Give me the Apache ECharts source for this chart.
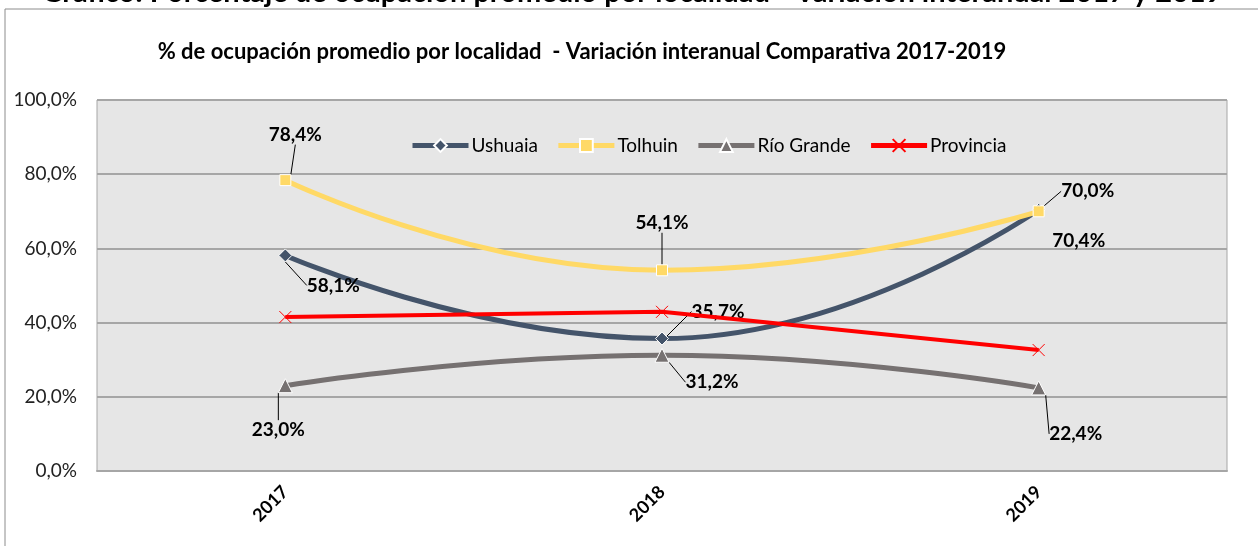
<!DOCTYPE html>
<html>
<head>
<meta charset="utf-8">
<script src="https://cdn.jsdelivr.net/npm/echarts@6/dist/echarts.min.js"></script>
<style>
  html, body { margin: 0; padding: 0; background: #fff; }
  #main { width: 1258px; height: 546px; }
</style>
</head>
<body>
<div id="main"></div>
<script>
// datos
var years = ['2017', '2018', '2019'];
var ushuaia = [58.1, 35.7, 70.4];
var tolhuin = [78.4, 54.1, 70.0];
var rioGrande = [23.0, 31.2, 22.4];
var provincia = [41.5, 42.9, 32.6];
var yTicks = [0, 20, 40, 60, 80, 100];

// desplazamiento de las etiquetas respecto del punto (dx, dy)
var labelOffsets = [
  [[48, 30], [56, -27], [40, 31]],
  [[10, -45], [0, -47], [49, -20]],
  [[-7, 44], [50, 27], [37, 46]],
  [[0, 0], [0, 0], [0, 0]]
];

var FONT = 'Lato';

function pct(v) {
  return v.toFixed(1).replace('.', ',') + '%';
}

function makeData(arr, noLine) {
  return arr.map(function (v, i) {
    var d = { value: v };
    if (noLine && noLine.indexOf(i) >= 0) d.labelLine = { show: false };
    return d;
  });
}

var labelCfg = {
  show: true,
  position: 'inside',
  color: '#000',
  fontFamily: FONT,
  fontWeight: 'bold',
  fontSize: 19,
  formatter: function (p) { return pct(p.value); }
};

var myChart = echarts.init(document.getElementById('main'));

myChart.setOption({
  backgroundColor: '#fff',
  animation: false,
  textStyle: { fontFamily: FONT },
  graphic: [
    {
      type: 'rect',
      shape: { x: 5, y: 9, width: 1300, height: 600 },
      style: { fill: 'none', stroke: '#8c8c8c', lineWidth: 1 },
      z: -10
    },
    {
      type: 'text',
      style: {
        x: 632, y: -7,
        text: 'Gráfico: Porcentaje de ocupación promedio por localidad - Variación interanual 2017 y 2019',
        font: 'bold 29px Lato',
        fill: '#000',
        align: 'center',
        verticalAlign: 'middle'
      }
    },
    {
      type: 'text',
      style: {
        x: 582, y: 52,
        text: '% de ocupación promedio por localidad  - Variación interanual Comparativa 2017-2019',
        font: 'bold 22px Lato',
        fill: '#000',
        align: 'center',
        verticalAlign: 'middle'
      }
    }
  ],
  legend: {
    top: 131,
    left: 405,
    itemWidth: 56,
    itemHeight: 16,
    itemGap: 18,
    lineStyle: { width: 5 },
    textStyle: { fontSize: 19, color: '#000', fontFamily: FONT, padding: [0, 0, 0, -2] },
    data: ['Ushuaia', 'Tolhuin', 'Río Grande', 'Provincia']
  },
  grid: {
    left: 97, right: 31, top: 100, bottom: 75,
    show: true,
    backgroundColor: '#e6e6e6',
    borderColor: '#a6a6a6',
    borderWidth: 1
  },
  xAxis: {
    type: 'category',
    data: years,
    boundaryGap: true,
    axisLine: { lineStyle: { color: '#a6a6a6', width: 2 } },
    axisTick: { show: false },
    axisLabel: {
      rotate: 45,
      margin: 18,
      fontSize: 18,
      fontWeight: 'bold',
      color: '#000',
      fontFamily: FONT
    }
  },
  yAxis: {
    type: 'value',
    min: yTicks[0],
    max: yTicks[yTicks.length - 1],
    interval: 20,
    axisLine: { show: false },
    axisTick: { show: false },
    splitLine: { lineStyle: { color: '#a6a6a6', width: 2 } },
    axisLabel: {
      margin: 20,
      fontSize: 19,
      color: '#222',
      fontFamily: FONT,
      formatter: function (v) { return pct(v); }
    }
  },
  series: [
    {
      name: 'Ushuaia',
      type: 'line',
      smooth: 0.5,
      data: makeData(ushuaia, [2]),
      symbol: 'diamond',
      symbolSize: 13,
      lineStyle: { color: '#44546a', width: 5 },
      itemStyle: { color: '#44546a', borderColor: '#fff', borderWidth: 1 },
      label: labelCfg,
      labelLine: { show: true, lineStyle: { color: '#000', width: 1 } },
      labelLayout: function (p) {
        var o = labelOffsets[0][p.dataIndex];
        return { dx: o[0], dy: o[1] };
      },
      z: 2
    },
    {
      name: 'Tolhuin',
      type: 'line',
      smooth: 0.5,
      data: makeData(tolhuin),
      symbol: 'rect',
      symbolSize: 11,
      lineStyle: { color: '#ffd966', width: 5 },
      itemStyle: { color: '#ffd966', borderColor: '#fff', borderWidth: 1 },
      label: labelCfg,
      labelLine: { show: true, lineStyle: { color: '#000', width: 1 } },
      labelLayout: function (p) {
        var o = labelOffsets[1][p.dataIndex];
        return { dx: o[0], dy: o[1] };
      },
      z: 3
    },
    {
      name: 'Río Grande',
      type: 'line',
      smooth: 0.5,
      data: makeData(rioGrande),
      symbol: 'triangle',
      symbolSize: 14,
      lineStyle: { color: '#767171', width: 5 },
      itemStyle: { color: '#767171', borderColor: '#fff', borderWidth: 1 },
      label: labelCfg,
      labelLine: { show: true, lineStyle: { color: '#000', width: 1 } },
      labelLayout: function (p) {
        var o = labelOffsets[2][p.dataIndex];
        return { dx: o[0], dy: o[1] };
      },
      z: 2
    },
    {
      name: 'Provincia',
      type: 'line',
      smooth: false,
      data: provincia,
      symbol: 'path://M0,0L10,10M10,0L0,10',
      symbolSize: 12,
      lineStyle: { color: '#ff0000', width: 4 },
      itemStyle: { color: '#ff0000', borderColor: '#ff0000', borderWidth: 1 },
      label: { show: false },
      z: 4
    }
  ]
});
</script>
</body>
</html>
